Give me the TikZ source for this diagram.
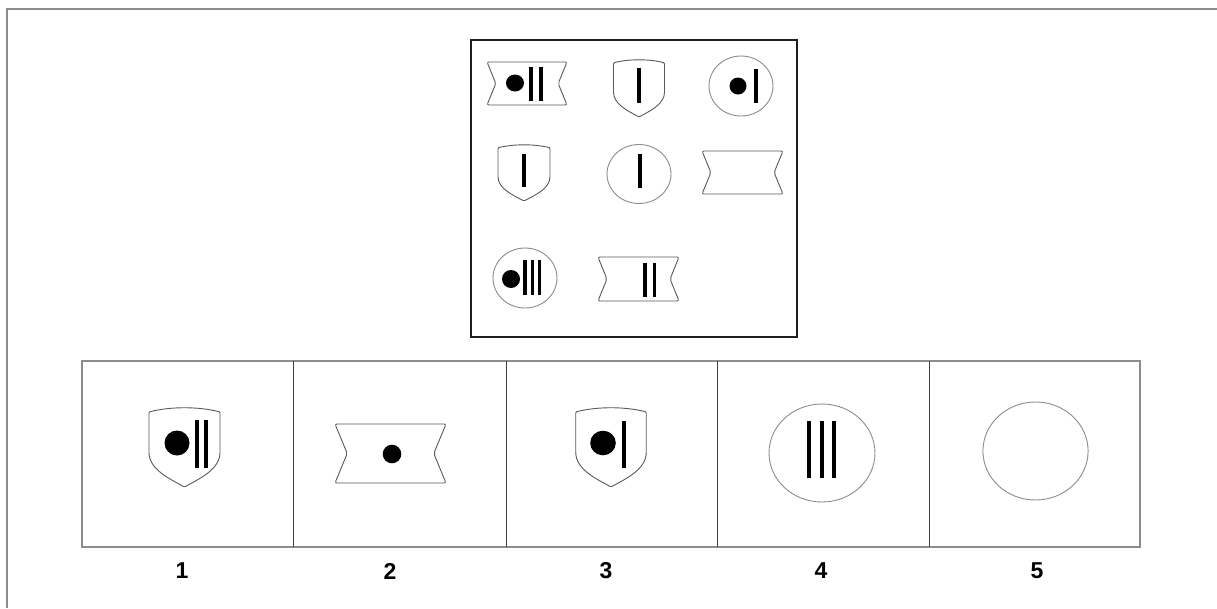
\documentclass[tikz,border=0pt]{standalone}
\usepackage{fontspec}
\setmainfont{Liberation Sans}
\begin{document}
\begin{tikzpicture}[x=1pt,y=-1pt,
  outl/.style={draw=black!65,line width=0.9pt,fill=white},
  circl/.style={draw=black!45,line width=0.9pt,fill=white},
  bar/.style={draw=black,line width=3.2pt},
  bigbar/.style={draw=black,line width=4pt},
  dot/.style={fill=black},
  lab/.style={font=\bfseries\fontsize{23}{26}\selectfont,inner sep=0pt},
  pics/shieldshape/.style={code={
    \draw[outl,rounded corners=1pt] (-0.5,-0.45) .. controls (-0.2,-0.52) and (0.2,-0.52) .. (0.5,-0.45)
      -- (0.5,0.05) .. controls (0.5,0.28) and (0.2,0.4) .. (0,0.5)
      .. controls (-0.2,0.4) and (-0.5,0.28) .. (-0.5,0.05) -- cycle;}},
  pics/ribbonshape/.style={code={
    \draw[outl,rounded corners=2pt] (-0.5,-0.5) -- (0.5,-0.5) -- (0.39,0) -- (0.5,0.5)
      -- (-0.5,0.5) -- (-0.39,0) -- cycle;}}
]
\useasboundingbox (0,0) rectangle (1217,608);
% outer frame
\draw[black!45,line width=1.5pt] (7,608) -- (7,9) -- (1217,9);
% top box
\draw[black!88,line width=2pt] (471,40) rectangle (797,337);
% row 1
\pic[xscale=80,yscale=43] at (527,83.5) {ribbonshape};
\fill[dot] (515,83) ellipse[x radius=9,y radius=8.5];
\draw[bar] (531,67) -- (531,101);
\draw[bar] (541,67) -- (541,101);
\pic[xscale=51,yscale=57] at (639,88.5) {shieldshape};
\draw[bar] (639,68) -- (639,103);
\draw[circl] (741,86) ellipse[x radius=32,y radius=30];
\fill[dot] (738,86) ellipse[x radius=8.5,y radius=8.5];
\draw[bar] (756,69) -- (756,103);
% row 2
\pic[xscale=52,yscale=56] at (524,173) {shieldshape};
\draw[bar] (524,154) -- (524,187);
\draw[circl] (639,174) ellipse[x radius=32,y radius=29.5];
\draw[bar] (640,154) -- (640,188);
\pic[xscale=81,yscale=43] at (742.5,172.5) {ribbonshape};
% row 3
\draw[circl] (525,278) ellipse[x radius=32,y radius=30];
\fill[dot] (511,279) ellipse[x radius=9,y radius=9];
\draw[bar] (525,260) -- (525,295);
\draw[bar] (532.3,260) -- (532.3,295);
\draw[bar] (539.7,260) -- (539.7,295);
\pic[xscale=81,yscale=44] at (638.5,279) {ribbonshape};
\draw[bar] (645,262.7) -- (645,297.3);
\draw[bar] (654.3,262.7) -- (654.3,297.3);
% bottom options
\draw[black!45,line width=1.3pt] (82,361) rectangle (1140,547);
\foreach \xx in {293,506,717,929} \draw[black!75,line width=0.8pt] (\xx,361) -- (\xx,547);
% option 1
\pic[xscale=71,yscale=79] at (184.5,447.5) {shieldshape};
\fill[dot] (177,443) ellipse[x radius=12.5,y radius=12.5];
\draw[bigbar] (196.7,420) -- (196.7,468.3);
\draw[bigbar] (205.5,420) -- (205.5,468.3);
% option 2
\pic[xscale=111,yscale=59] at (390.5,453.5) {ribbonshape};
\fill[dot] (392,454) ellipse[x radius=9.3,y radius=9.3];
% option 3
\pic[xscale=70.5,yscale=79] at (611,447.5) {shieldshape};
\fill[dot] (603,443) ellipse[x radius=12.8,y radius=12.3];
\draw[bigbar] (624,421) -- (624,468);
% option 4
\draw[circl] (822,453) ellipse[x radius=53,y radius=49];
\draw[bigbar] (809,421) -- (809,478);
\draw[bigbar] (822,421) -- (822,478);
\draw[bigbar] (834,421) -- (834,478);
% option 5
\draw[circl] (1035.5,451) ellipse[x radius=52.6,y radius=49];
% labels
\node[lab] (l1) at (182,571) {1};
\node[lab] (l2) at (390,571) {2};
\node[lab] (l3) at (606,571) {3};
\node[lab] (l4) at (821,571) {4};
\node[lab] (l5) at (1037,571) {5};
\end{tikzpicture}
\end{document}
